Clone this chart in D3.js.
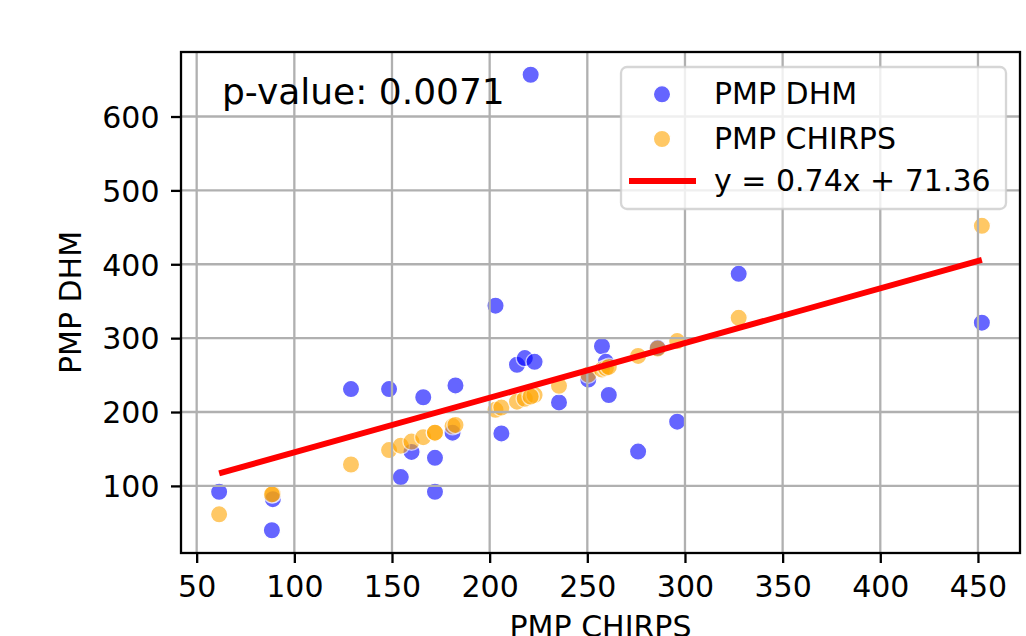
<!DOCTYPE html>
<html>
<head>
<meta charset="utf-8">
<script src="https://cdn.jsdelivr.net/npm/d3@7"></script>
<style>
  body { margin: 0; background: #fff; }
  text { font-family: "DejaVu Sans", sans-serif; fill: #000; }
</style>
</head>
<body>
<script>
// PMP per station (x = CHIRPS, y = DHM)
var pmpChirps = [61.5, 89, 88.5, 129, 148.5, 154.5, 160, 166, 172, 172, 181, 182.5, 203, 206,
                 214, 218, 223, 221, 235.5, 250.5, 257.5, 259.5, 261, 276, 286, 296, 327.5, 452];
var pmpDhm = [92, 82, 40, 231, 231, 112, 146, 220, 138, 92, 172, 236, 344, 171,
              264, 273, 268, 656.5, 213, 244, 289, 268, 223, 146.5, 287, 187, 387, 321];

var xTicks = [50, 100, 150, 200, 250, 300, 350, 400, 450];
var yTicks = [100, 200, 300, 400, 500, 600];

var seriesNames = ['PMP DHM', 'PMP CHIRPS'];
var seriesColors = ['blue', 'orange'];

// regression result printed on the chart
var fitSlope = 0.74;
var fitIntercept = 71.36;
var pValue = '0.0071';

var W = 1026, H = 636;
// plot box (note: "top" is taken by window.top, so prefix these)
var pLeft = 181, pRight = 1020, pTop = 52, pBottom = 553;
var lw = 2.3;
var fs = '30px';

var svg = d3.select('body').append('svg')
  .attr('width', W)
  .attr('height', H);

// matplotlib style 5% margins round the data
function padded(vals) {
  var e = d3.extent(vals);
  var p = (e[1] - e[0]) * 0.05;
  return [e[0] - p, e[1] + p];
}

var x = d3.scaleLinear().domain(padded(pmpChirps)).range([pLeft, pRight]);
var y = d3.scaleLinear().domain(padded(pmpDhm.concat(pmpChirps))).range([pBottom, pTop]);

// DHM points first, CHIRPS (on the diagonal) over them
var dhmPts = pmpChirps.map(function(c, i) { return [c, pmpDhm[i]]; });
var chirpsPts = pmpChirps.map(function(c) { return [c, c]; });

[dhmPts, chirpsPts].forEach(function(pts, k) {
  svg.append('g')
    .selectAll('circle')
    .data(pts)
    .enter()
    .append('circle')
    .attr('cx', function(d) { return x(d[0]); })
    .attr('cy', function(d) { return y(d[1]); })
    .attr('r', 8.7)
    .attr('fill', seriesColors[k])
    .attr('stroke', 'white')
    .attr('stroke-width', 1.4)
    .attr('opacity', 0.6);
});

// grid sits above the scatter, as in matplotlib
var grid = svg.append('g').attr('stroke', '#b0b0b0').attr('stroke-width', lw);
grid.selectAll('.gx').data(xTicks).enter().append('line')
  .attr('x1', function(d) { return x(d); })
  .attr('x2', function(d) { return x(d); })
  .attr('y1', pTop).attr('y2', pBottom);
grid.selectAll('.gy').data(yTicks).enter().append('line')
  .attr('y1', function(d) { return y(d); })
  .attr('y2', function(d) { return y(d); })
  .attr('x1', pLeft).attr('x2', pRight);

// fitted line over the CHIRPS range
var xr = d3.extent(pmpChirps);
var line = d3.line()
  .x(function(d) { return x(d); })
  .y(function(d) { return y(fitSlope * d + fitIntercept); });
svg.append('path')
  .datum(xr)
  .attr('d', line)
  .attr('fill', 'none')
  .attr('stroke', 'red')
  .attr('stroke-width', 5.9);

// axes
var xAxis = svg.append('g')
  .attr('transform', 'translate(0,' + pBottom + ')')
  .call(d3.axisBottom(x).tickValues(xTicks).tickSize(10).tickSizeOuter(0).tickPadding(13));
var yAxis = svg.append('g')
  .attr('transform', 'translate(' + pLeft + ',0)')
  .call(d3.axisLeft(y).tickValues(yTicks).tickSize(10).tickSizeOuter(0).tickPadding(11.5));

[xAxis, yAxis].forEach(function(ax) {
  ax.select('.domain').remove();
  ax.selectAll('.tick line').attr('stroke', '#000').attr('stroke-width', lw);
  ax.selectAll('.tick text')
    .attr('fill', '#000')
    .style('font-size', fs)
    .style('font-family', '"DejaVu Sans", sans-serif');
});
yAxis.selectAll('.tick text').attr('dy', '0.36em');

svg.append('rect')
  .attr('x', pLeft).attr('y', pTop)
  .attr('width', pRight - pLeft).attr('height', pBottom - pTop)
  .attr('fill', 'none')
  .attr('stroke', '#000')
  .attr('stroke-width', lw);

// axis titles
svg.append('text')
  .attr('x', (pLeft + pRight) / 2)
  .attr('y', 637)
  .attr('text-anchor', 'middle')
  .style('font-size', fs)
  .text('PMP CHIRPS');

svg.append('text')
  .attr('transform', 'translate(81,' + (pTop + pBottom) / 2 + ') rotate(-90)')
  .attr('text-anchor', 'middle')
  .style('font-size', fs)
  .text('PMP DHM');

// p-value note, upper left
svg.append('text')
  .attr('x', 222)
  .attr('y', 104.3)
  .style('font-size', '36px')
  .text('p-value: ' + pValue);

// legend, upper right
var leg = svg.append('g');
leg.append('rect')
  .attr('x', 621).attr('y', 67)
  .attr('width', 385).attr('height', 142)
  .attr('rx', 6)
  .attr('fill', 'white')
  .attr('fill-opacity', 0.8)
  .attr('stroke', '#cccccc')
  .attr('stroke-opacity', 0.8)
  .attr('stroke-width', lw);

var rowY = [94.3, 139, 181];
seriesNames.forEach(function(name, k) {
  leg.append('circle')
    .attr('cx', 662).attr('cy', rowY[k])
    .attr('r', 8.7)
    .attr('fill', seriesColors[k])
    .attr('stroke', 'white')
    .attr('stroke-width', 1.4)
    .attr('opacity', 0.6);
  leg.append('text')
    .attr('x', 714).attr('y', rowY[k] + 9.5)
    .style('font-size', fs)
    .text(name);
});
leg.append('line')
  .attr('x1', 629).attr('x2', 696)
  .attr('y1', rowY[2]).attr('y2', rowY[2])
  .attr('stroke', 'red')
  .attr('stroke-width', 5.9);
leg.append('text')
  .attr('x', 714).attr('y', rowY[2] + 9.5)
  .style('font-size', fs)
  .text('y = ' + fitSlope.toFixed(2) + 'x + ' + fitIntercept.toFixed(2));
</script>
</body>
</html>
